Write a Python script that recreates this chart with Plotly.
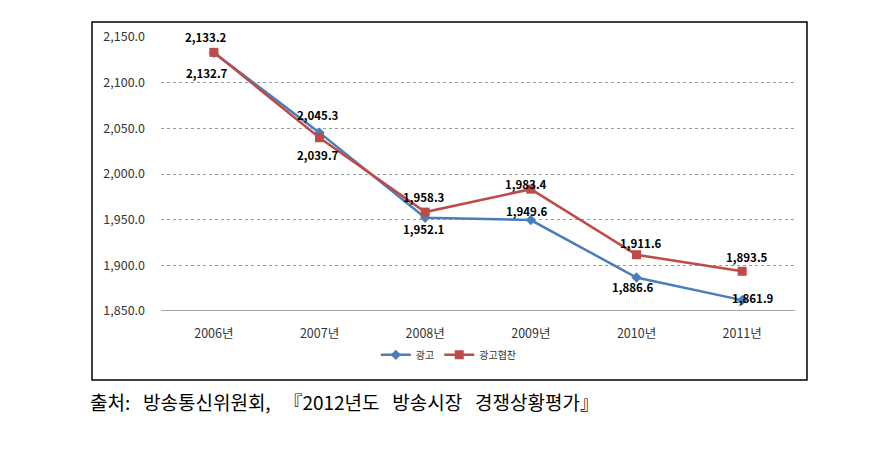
import plotly.graph_objects as go

years = ["2006년", "2007년", "2008년", "2009년", "2010년", "2011년"]
ad = [2132.7, 2045.3, 1952.1, 1949.6, 1886.6, 1861.9]
ad_sponsor = [2133.2, 2039.7, 1958.3, 1983.4, 1911.6, 1893.5]
series_names = ["광고", "광고협찬"]
source_words = ["출처:", "방송통신위원회,", "『2012년도", "방송시장", "경쟁상황평가』"]
y_ticks = [1850, 1900, 1950, 2000, 2050, 2100, 2150]

BLUE = "#4A7EBB"
RED = "#BE4B48"
FONT = "Noto Sans CJK KR"

fig = go.Figure()
fig.add_trace(go.Scatter(
    x=years, y=ad, name=series_names[0], mode="lines+markers",
    line=dict(color=BLUE, width=2.5),
    marker=dict(symbol="diamond", size=8, color=BLUE),
))
fig.add_trace(go.Scatter(
    x=years, y=ad_sponsor, name=series_names[1], mode="lines+markers",
    line=dict(color=RED, width=2.5),
    marker=dict(symbol="square", size=9, color=RED),
))

# label offsets (pixels) for each point
ad_shift = [(-7, -20), (-2, 18), (-1, -11), (-4, 9), (-4, -9), (11, 2)]
sp_shift = [(-8, 15), (-2, -17), (-1, 15), (-5, 5), (4, 12), (5, 14)]

for vals, shifts in ((ad, ad_shift), (ad_sponsor, sp_shift)):
    for x, v, (dx, dy) in zip(years, vals, shifts):
        fig.add_annotation(
            x=x, y=v, text=f"<b>{v:,.1f}</b>", showarrow=False,
            xshift=dx, yshift=dy,
            font=dict(family=FONT, size=11.5, color="#000000"),
        )

# outer border box
fig.add_shape(type="rect", xref="paper", yref="paper",
              x0=-0.1088, x1=1.0189, y0=-0.2518, y1=1.0547,
              line=dict(color="#000000", width=1.5), layer="below")

gap = "\u00a0\u00a0\u00a0"
fig.add_annotation(
    xref="paper", yref="paper", x=-0.115, y=-0.332,
    xanchor="left", yanchor="middle", text=gap.join(source_words), showarrow=False,
    font=dict(family=FONT, size=19, color="#000000"),
)

fig.update_layout(
    width=875, height=474,
    margin=dict(l=153, r=88, t=29, b=171),
    paper_bgcolor="white", plot_bgcolor="white",
    font=dict(family=FONT, size=12, color="#333333"),
    showlegend=True,
    legend=dict(orientation="h", x=0.454, y=-0.16, xanchor="center",
                yanchor="middle", font=dict(family=FONT, size=10, color="#333333"),
                itemwidth=30, bgcolor="rgba(0,0,0,0)"),
    xaxis=dict(type="category", range=[-0.5, 5.5], showgrid=False,
               showline=False, ticks="", ticklabelstandoff=13,
               tickfont=dict(family=FONT, size=12.5, color="#333333"),
               zeroline=False),
    yaxis=dict(range=[1850, 2150], tickvals=y_ticks, tickformat=",.1f",
               showgrid=True, gridcolor="#9a9a9a", griddash="dot", gridwidth=1,
               showline=False, zeroline=False, ticks="", ticklabelstandoff=15,
               tickfont=dict(family=FONT, size=12.5, color="#333333")),
)
# solid baseline at the bottom of the value axis
fig.add_shape(type="line", xref="paper", yref="y", x0=0, x1=1, y0=1850, y1=1850,
              line=dict(color="#868686", width=1.5))

fig.write_html("out.html")
